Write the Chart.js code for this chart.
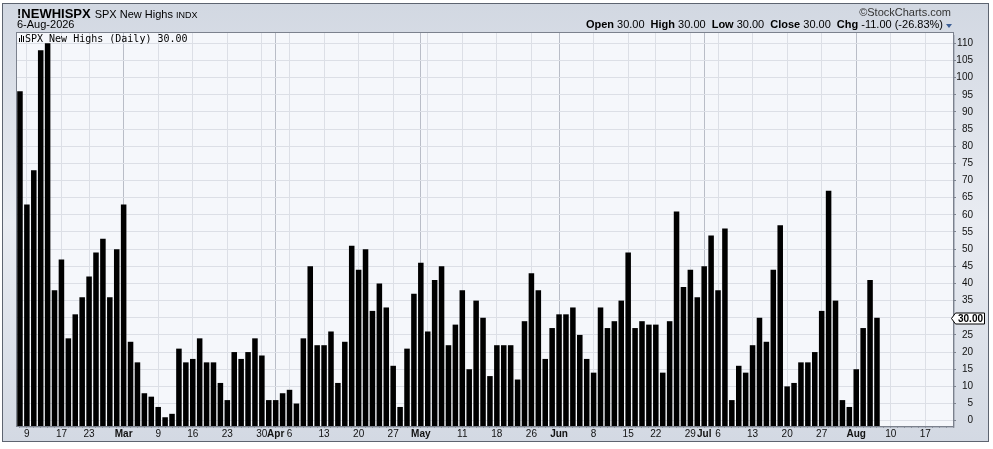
<!DOCTYPE html>
<html>
<head>
<meta charset="utf-8">
<title>!NEWHISPX</title>
<script src="https://cdn.jsdelivr.net/npm/chart.js@4.4.1/dist/chart.umd.min.js"></script>
<style>
  html, body { margin: 0; padding: 0; background: #fff; }
  #wrap { position: relative; width: 993px; height: 449px; font-family: "Liberation Sans", Arial, sans-serif; color: #000; }
  #panel { position: absolute; left: 2px; top: 3px; width: 985px; height: 437px; border: 1px solid #5d6470;
           background: linear-gradient(to bottom, #d2d8e2 0%, #e9ecf2 50%, #d3d9e3 100%); }
  canvas { position: absolute; left: 0; top: 0; }
  .txt { position: absolute; white-space: nowrap; line-height: 1; }
  #title { left: 17px; top: 7px; display: flex; align-items: baseline; }
  #title b { font-size: 13px; line-height: 13px; }
  #title .name { font-size: 11px; line-height: 11px; margin-left: 4px; }
  #title .exch { font-size: 9px; line-height: 9px; margin-left: 3px; }
  #date { left: 17px; top: 19px; font-size: 11px; }
  #copy { right: 42px; top: 7px; font-size: 11px; color: #333; }
  #ohlc { right: 50px; top: 19px; font-size: 11px; }
  #ohlc span { margin-left: 6px; }
  #arrow { position: absolute; left: 946px; top: 24px; width: 0; height: 0;
           border-left: 3px solid transparent; border-right: 3px solid transparent; border-top: 4px solid #3d5f95; }
  #legend { left: 25px; top: 34px; font-family: "DejaVu Sans Mono", monospace; font-size: 10px; }
  .ico { position: absolute; width: 1px; background: #000; }
</style>
</head>
<body>
<div id="wrap">
  <div id="panel"></div>
  <canvas id="chart" width="993" height="449"></canvas>
  <div id="title" class="txt"><b>!NEWHISPX</b><span class="name">SPX New Highs</span><span class="exch">INDX</span></div>
  <div id="date" class="txt">6-Aug-2026</div>
  <div id="copy" class="txt">&copy;StockCharts.com</div>
  <div id="ohlc" class="txt"><b>Open</b> 30.00<span><b>High</b> 30.00</span><span><b>Low</b> 30.00</span><span><b>Close</b> 30.00</span><span><b>Chg</b> -11.00 (-26.83%)</span></div>
  <div id="arrow"></div>
  <div class="ico" style="left:19px; top:38px; height:4px;"></div>
  <div class="ico" style="left:21px; top:35px; height:7px;"></div>
  <div class="ico" style="left:23px; top:36px; height:6px;"></div>
  <div id="legend" class="txt">SPX New Highs (Daily) 30.00</div>
</div>
<script>
// trading days shown on the axis (data stops on Aug 6, the rest is empty space)
const days = [
  '2026-02-06', '2026-02-09', '2026-02-10', '2026-02-11', '2026-02-12', '2026-02-13',
  '2026-02-17', '2026-02-18', '2026-02-19', '2026-02-20', '2026-02-23', '2026-02-24',
  '2026-02-25', '2026-02-26', '2026-02-27',
  '2026-03-02', '2026-03-03', '2026-03-04', '2026-03-05', '2026-03-06', '2026-03-09',
  '2026-03-10', '2026-03-11', '2026-03-12', '2026-03-13', '2026-03-16', '2026-03-17',
  '2026-03-18', '2026-03-19', '2026-03-20', '2026-03-23', '2026-03-24', '2026-03-25',
  '2026-03-26', '2026-03-27', '2026-03-30', '2026-03-31',
  '2026-04-01', '2026-04-02', '2026-04-06', '2026-04-07', '2026-04-08', '2026-04-09',
  '2026-04-10', '2026-04-13', '2026-04-14', '2026-04-15', '2026-04-16', '2026-04-17',
  '2026-04-20', '2026-04-21', '2026-04-22', '2026-04-23', '2026-04-24', '2026-04-27',
  '2026-04-28', '2026-04-29', '2026-04-30',
  '2026-05-01', '2026-05-04', '2026-05-05', '2026-05-06', '2026-05-07', '2026-05-08',
  '2026-05-11', '2026-05-12', '2026-05-13', '2026-05-14', '2026-05-15', '2026-05-18',
  '2026-05-19', '2026-05-20', '2026-05-21', '2026-05-22', '2026-05-26', '2026-05-27',
  '2026-05-28', '2026-05-29',
  '2026-06-01', '2026-06-02', '2026-06-03', '2026-06-04', '2026-06-05', '2026-06-08',
  '2026-06-09', '2026-06-10', '2026-06-11', '2026-06-12', '2026-06-15', '2026-06-16',
  '2026-06-17', '2026-06-18', '2026-06-22', '2026-06-23', '2026-06-24', '2026-06-25',
  '2026-06-26', '2026-06-29', '2026-06-30',
  '2026-07-01', '2026-07-02', '2026-07-06', '2026-07-07', '2026-07-08', '2026-07-09',
  '2026-07-10', '2026-07-13', '2026-07-14', '2026-07-15', '2026-07-16', '2026-07-17',
  '2026-07-20', '2026-07-21', '2026-07-22', '2026-07-23', '2026-07-24', '2026-07-27',
  '2026-07-28', '2026-07-29', '2026-07-30', '2026-07-31',
  '2026-08-03', '2026-08-04', '2026-08-05', '2026-08-06', '2026-08-07', '2026-08-10',
  '2026-08-11', '2026-08-12', '2026-08-13', '2026-08-14', '2026-08-17', '2026-08-18',
  '2026-08-19', '2026-08-20', '2026-08-21'
];

// daily count of new highs, Feb 6 .. Aug 6
const newHighs = [
  96, 63, 73, 108, 110, 38, 47, 24, 31, 36, 42, 49, 53, 36, 50,
  63, 23, 17, 8, 7, 4, 1, 2, 21, 17, 18, 24, 17, 17, 11, 6, 20, 18, 20, 24, 19, 6,
  6, 8, 9, 5, 24, 45, 22, 22, 26, 11, 23, 51, 44, 50, 32, 40, 33, 16, 4, 21, 37,
  46, 26, 41, 45, 22, 28, 38, 15, 35, 30, 13, 22, 22, 22, 12, 29, 43, 38, 18, 27,
  31, 31, 33, 25, 18, 14, 33, 27, 29, 35, 49, 27, 29, 28, 28, 14, 29, 61, 39, 44, 36,
  45, 54, 38, 56, 6, 16, 14, 22, 30, 23, 44, 57, 10, 11, 17, 17, 20, 32, 67, 35, 6, 4,
  15, 27, 41, 30
];

// x axis labels (a blank label still gets a weekly grid line)
const xTickLabels = [
  ['2026-02-09', '9'], ['2026-02-17', '17'], ['2026-02-23', '23'], ['2026-03-02', 'Mar'],
  ['2026-03-09', '9'], ['2026-03-16', '16'], ['2026-03-23', '23'], ['2026-03-30', '30'],
  ['2026-04-01', 'Apr'], ['2026-04-06', '6'], ['2026-04-13', '13'], ['2026-04-20', '20'],
  ['2026-04-27', '27'], ['2026-05-01', 'May'], ['2026-05-04', ''], ['2026-05-11', '11'],
  ['2026-05-18', '18'], ['2026-05-26', '26'], ['2026-06-01', 'Jun'], ['2026-06-08', '8'],
  ['2026-06-15', '15'], ['2026-06-22', '22'], ['2026-06-29', '29'], ['2026-07-01', 'Jul'],
  ['2026-07-06', '6'], ['2026-07-13', '13'], ['2026-07-20', '20'], ['2026-07-27', '27'],
  ['2026-08-03', 'Aug'], ['2026-08-10', '10'], ['2026-08-17', '17']
];
const monthStarts = ['2026-03-02', '2026-04-01', '2026-05-01', '2026-06-01', '2026-07-01', '2026-08-03'];

const yTicks = [0, 5, 10, 15, 20, 25, 30, 35, 40, 45, 50, 55, 60, 65, 70, 75, 80, 85, 90, 95, 100, 105, 110];
const yMin = -1.55;
const yMax = 113;
const xMin = -0.43;
const xMax = 135;

const tickText = Object.fromEntries(xTickLabels);
const lastValue = newHighs[newHighs.length - 1];
const fontFamily = '"Liberation Sans", Arial, sans-serif';

const framePlugin = {
    id: 'frame',
    beforeDraw(chart) {
        const { ctx, chartArea: a } = chart;
        ctx.save();
        ctx.fillStyle = '#f5f7fb';
        ctx.fillRect(a.left, a.top, a.right - a.left, a.bottom - a.top);
        // soft shadow right and below the plot
        ctx.strokeStyle = '#b4bac5';
        ctx.lineWidth = 1;
        ctx.beginPath();
        ctx.moveTo(a.right + 1.5, a.top + 2);
        ctx.lineTo(a.right + 1.5, a.bottom + 1.5);
        ctx.lineTo(a.left + 2, a.bottom + 1.5);
        ctx.stroke();
        ctx.restore();
    },
    afterDraw(chart) {
        const { ctx, chartArea: a, scales: { y } } = chart;
        ctx.save();
        ctx.strokeStyle = '#7b818d';
        ctx.lineWidth = 1;
        ctx.strokeRect(a.left - 0.5, a.top - 0.5, a.right - a.left + 1, a.bottom - a.top + 1);

        // last value tag on the price axis
        const py = Math.round(y.getPixelForValue(lastValue)) + 0.5;
        const tip = a.right - 1.5, left = a.right + 2.5, right = a.right + 31.5, h = 5.5;
        ctx.beginPath();
        ctx.moveTo(tip, py);
        ctx.lineTo(left, py - h);
        ctx.lineTo(right, py - h);
        ctx.lineTo(right, py + h);
        ctx.lineTo(left, py + h);
        ctx.closePath();
        ctx.fillStyle = '#fff';
        ctx.fill();
        ctx.strokeStyle = '#000';
        ctx.stroke();
        ctx.fillStyle = '#000';
        ctx.font = 'bold 10px ' + fontFamily;
        ctx.textAlign = 'center';
        ctx.textBaseline = 'middle';
        ctx.fillText(lastValue.toFixed(2), (left + right) / 2 + 0.5, py + 0.5);
        ctx.restore();
    }
};

new Chart(document.getElementById('chart'), {
    type: 'bar',
    data: {
        datasets: [{
            data: newHighs.map((v, i) => ({ x: i, y: v })),
            backgroundColor: '#000',
            base: yMin,
            barPercentage: 0.8,
            categoryPercentage: 1
        }]
    },
    options: {
        responsive: false,
        animation: false,
        layout: { padding: { left: 17, top: 33, right: 20, bottom: 7 } },
        plugins: {
            legend: { display: false },
            tooltip: { enabled: false }
        },
        scales: {
            x: {
                type: 'linear',
                min: xMin,
                max: xMax,
                bounds: 'data',
                offset: false,
                afterBuildTicks: axis => { axis.ticks = days.map((d, i) => ({ value: i })); },
                afterFit: axis => { axis.height = 16; },
                border: { display: false },
                grid: {
                    offset: false,
                    color: ctx => {
                        const d = days[ctx.tick ? ctx.tick.value : ctx.index];
                        if (monthStarts.includes(d)) return '#b9bdc7';
                        if (d in tickText) return '#dcdfe6';
                        return 'rgba(0,0,0,0)';
                    },
                    tickColor: '#8d939f',
                    tickLength: 2
                },
                ticks: {
                    autoSkip: false,
                    maxRotation: 0,
                    padding: 0,
                    color: '#111',
                    font: ctx => ({
                        family: fontFamily,
                        size: 10,
                        weight: ctx.tick && monthStarts.includes(days[ctx.tick.value]) ? 'bold' : 'normal'
                    }),
                    callback: value => tickText[days[value]] || ''
                }
            },
            y: {
                position: 'right',
                min: yMin,
                max: yMax,
                bounds: 'data',
                afterBuildTicks: axis => { axis.ticks = yTicks.map(v => ({ value: v })); },
                afterFit: axis => { axis.width = 20; },
                border: { display: false },
                grid: { color: '#dcdfe6', tickColor: '#7d838f', tickLength: 3 },
                ticks: {
                    crossAlign: 'far',
                    padding: 1,
                    color: '#111',
                    font: { family: fontFamily, size: 10 }
                }
            }
        }
    },
    plugins: [framePlugin]
});
</script>
</body>
</html>
